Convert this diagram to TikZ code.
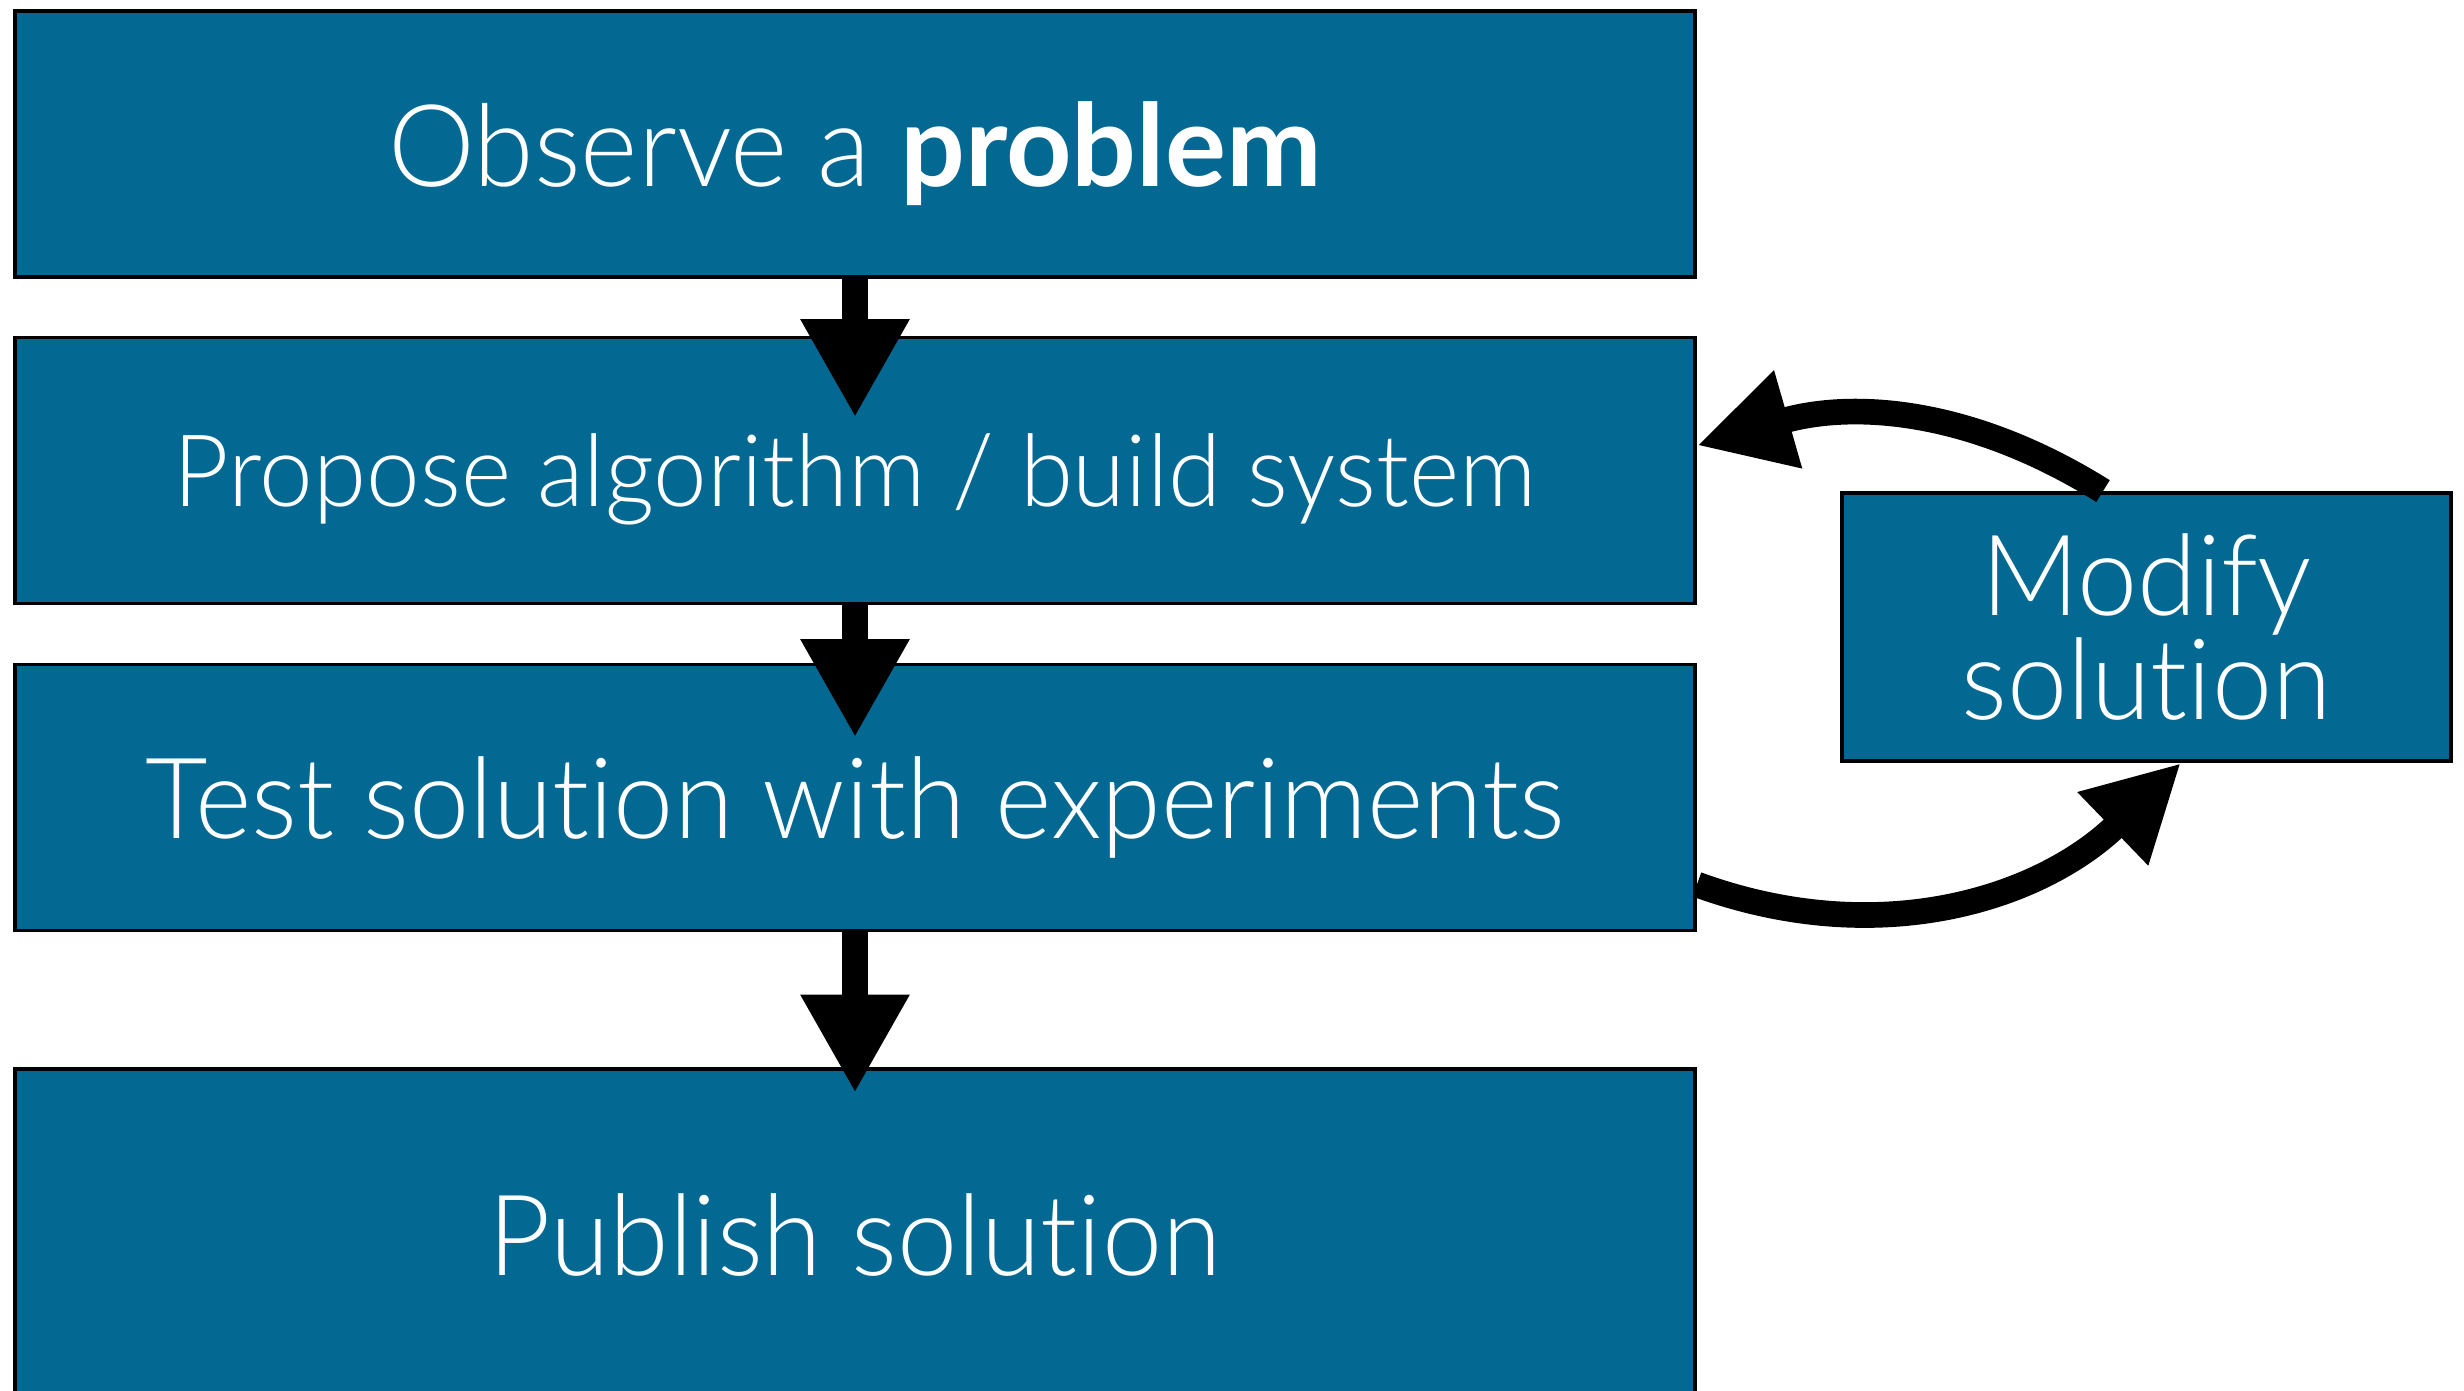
\documentclass[tikz,border=0pt]{standalone}
\usepackage{fontspec}
\setmainfont{Lato}[UprightFont={* Light},BoldFont={* Bold},Ligatures={NoCommon},UprightFeatures={FakeStretch=0.96}]
\usetikzlibrary{arrows.meta}
\definecolor{boxblue}{HTML}{036993}
\tikzset{
  stepbox/.style={draw=black, line width=1.1pt, fill=boxblue, text=white,
    minimum width=16.8cm, minimum height=2.66cm, inner sep=0pt, align=center, text depth=0pt},
  flowarrow/.style={line width=7.6pt, -{Triangle[length=28pt,width=29pt]}},
  loopar/.style={line width=7.3pt, -{Triangle[length=27pt,width=27pt]}}
}
\begin{document}
\begin{tikzpicture}[x=1cm,y=1cm]
\useasboundingbox (0,0) rectangle (24.64,-13.90);
\clip (0,0) rectangle (24.64,-13.90);
\node[stepbox, font=\fontsize{32.5}{38}\selectfont] (b1) at (8.55,-1.44) {Observe a \textbf{problem}};
\node[stepbox, font=\fontsize{28.5}{34}\selectfont] (b2) at (8.55,-4.705) {Propose algorithm / build system};
\node[stepbox, font=\fontsize{32}{38}\selectfont] (b3) at (8.55,-7.975) {Test solution with experiments};
\node[stepbox, minimum height=3.32cm, font=\fontsize{32}{38}\selectfont] (b4) at (8.55,-12.35) {Publish solution};
\node[stepbox, minimum width=6.09cm, minimum height=2.68cm, text depth=, font=\fontsize{32}{29.6}\selectfont] (mod) at (21.465,-6.27)
  {Modify\\solution};
\draw[flowarrow] (b1.south) -- ([yshift=-0.82cm]b2.north);
\draw[flowarrow] (b2.south) -- ([yshift=-0.75cm]b3.north);
\draw[flowarrow] (b3.south) -- ([yshift=-0.26cm]b4.north);
\coordinate (ua) at ([xshift=-0.435cm]mod.north);
\coordinate (ub) at ([yshift=0.25cm]b2.east);
\coordinate (la) at ([yshift=-0.87cm]b3.east);
\coordinate (lb) at ([xshift=0.345cm]mod.south);
\draw[loopar] (ua) to[out=148,in=16] (ub);
\draw[loopar] (la) to[out=-20,in=224] (lb);
\end{tikzpicture}
\end{document}
